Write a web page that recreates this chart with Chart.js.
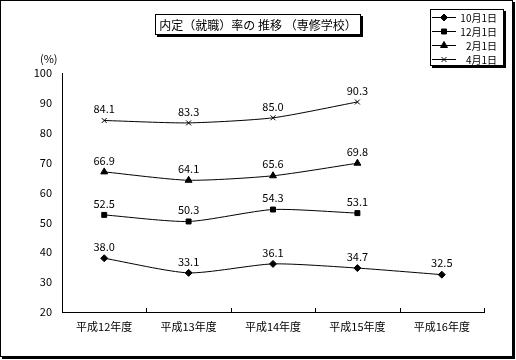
<!DOCTYPE html>
<html>
<head>
<meta charset="utf-8">
<script src="https://cdn.jsdelivr.net/npm/chart.js@4.4.0/dist/chart.umd.min.js"></script>
<style>
  body { margin: 0; background: #fff; }
  #wrap { position: relative; width: 516px; height: 360px; font-family: "Noto Sans CJK JP", sans-serif; }
  #chart { position: absolute; left: 0; top: 0; }
  #frame { position: absolute; left: 0; top: 0; width: 511px; height: 355px; border: 1px solid #000; box-shadow: 2px 2px 0 #000; pointer-events: none; }
  #title { position: absolute; left: 155px; top: 14px; width: 204px; height: 19px; border: 1px solid #000; box-shadow: 2px 2px 0 #000; background: #fff;
           font-size: 12px; line-height: 19px; text-align: center; white-space: nowrap; }
  #unit { position: absolute; left: 40px; top: 50px; font-size: 11px; }
</style>
</head>
<body>
<div id="wrap">
  <canvas id="chart" width="516" height="360"></canvas>
  <div id="frame"></div>
  <div id="title">内定（就職）率の 推移 （専修学校）</div>
  <div id="unit">(%)</div>
</div>
<script>
const years = ['平成12年度', '平成13年度', '平成14年度', '平成15年度', '平成16年度'];
const seriesNames = ['10月1日', '12月1日', '2月1日', '4月1日'];
const oct1 = [38.0, 33.1, 36.1, 34.7, 32.5];
const dec1 = [52.5, 50.3, 54.3, 53.1, null];
const feb1 = [66.9, 64.1, 65.6, 69.8, null];
const apr1 = [84.1, 83.3, 85.0, 90.3, null];
const yMin = 20;
const yMax = 100;
const yStep = 10;

const FONT = '"Noto Sans CJK JP", sans-serif';
const markers = ['rectRot', 'rect', 'triangle', 'crossRot'];
const markerSize = [3.5, 3.5, 4, 3.5];

// value labels above each point
const valueLabels = {
  id: 'valueLabels',
  afterDatasetsDraw(chart) {
    const ctx = chart.ctx;
    ctx.save();
    ctx.font = '11px ' + FONT;
    ctx.fillStyle = '#000';
    ctx.textAlign = 'center';
    ctx.textBaseline = 'bottom';
    chart.data.datasets.forEach((ds, i) => {
      chart.getDatasetMeta(i).data.forEach((pt, j) => {
        if (ds.data[j] == null) return;
        ctx.fillText(ds.data[j].toFixed(1), pt.x, pt.y - 6);
      });
    });
    ctx.restore();
  }
};

// inward tick marks on the category axis + boxed legend
const extras = {
  id: 'extras',
  afterDraw(chart) {
    const ctx = chart.ctx;
    const area = chart.chartArea;
    ctx.save();
    ctx.strokeStyle = '#000';
    ctx.lineWidth = 1;
    const step = (area.right - area.left) / years.length;
    for (let i = 1; i <= years.length; i++) {
      const px = Math.round(area.left + step * i) + 0.5;
      ctx.beginPath();
      ctx.moveTo(px, area.bottom);
      ctx.lineTo(px, area.bottom - 4);
      ctx.stroke();
    }

    // legend box
    const lx = 430, ly = 9, lw = 73, lh = 56;
    ctx.fillStyle = '#000';
    ctx.fillRect(lx + 2, ly + 2, lw + 1, lh + 1);
    ctx.fillStyle = '#fff';
    ctx.fillRect(lx, ly, lw, lh);
    ctx.strokeRect(lx + 0.5, ly + 0.5, lw, lh);
    ctx.font = '10px ' + FONT;
    ctx.textAlign = 'right';
    ctx.textBaseline = 'middle';
    seriesNames.forEach((name, i) => {
      const cy = ly + 8 + i * 14;
      ctx.fillStyle = '#000';
      ctx.beginPath();
      ctx.moveTo(lx + 2, cy + 0.5);
      ctx.lineTo(lx + 26, cy + 0.5);
      ctx.stroke();
      Chart.helpers.drawPoint(ctx, {
        pointStyle: markers[i], radius: markerSize[i], rotation: 0, borderWidth: 1
      }, lx + 14, cy + 0.5);
      ctx.fillText(name, lx + 67, cy + 1);
    });
    ctx.restore();
  }
};

const dataSets = [oct1, dec1, feb1, apr1].map((vals, i) => ({
  label: seriesNames[i],
  data: vals,
  borderColor: '#000',
  backgroundColor: '#000',
  borderWidth: 1,
  tension: 0.22,
  pointStyle: markers[i],
  pointRadius: markerSize[i],
  pointBorderColor: '#000',
  pointBackgroundColor: '#000',
  pointBorderWidth: 1
}));

new Chart(document.getElementById('chart'), {
  type: 'line',
  data: { labels: years, datasets: dataSets },
  plugins: [valueLabels, extras],
  options: {
    responsive: false,
    animation: false,
    layout: { padding: { top: 73, right: 32, left: 0, bottom: 0 } },
    plugins: {
      legend: { display: false },
      tooltip: { enabled: false }
    },
    scales: {
      x: {
        offset: true,
        grid: { display: false, drawTicks: false },
        border: { display: true, color: '#000', width: 1 },
        ticks: { color: '#000', font: { family: FONT, size: 11 }, padding: 8, maxRotation: 0 },
        afterFit(s) { s.height = 48; }
      },
      y: {
        min: yMin,
        max: yMax,
        grid: { display: false, drawTicks: false },
        border: { display: true, color: '#000', width: 1 },
        ticks: { stepSize: yStep, color: '#000', font: { family: FONT, size: 11 }, padding: 10 },
        afterFit(s) { s.width = 62; }
      }
    }
  }
});
</script>
</body>
</html>
